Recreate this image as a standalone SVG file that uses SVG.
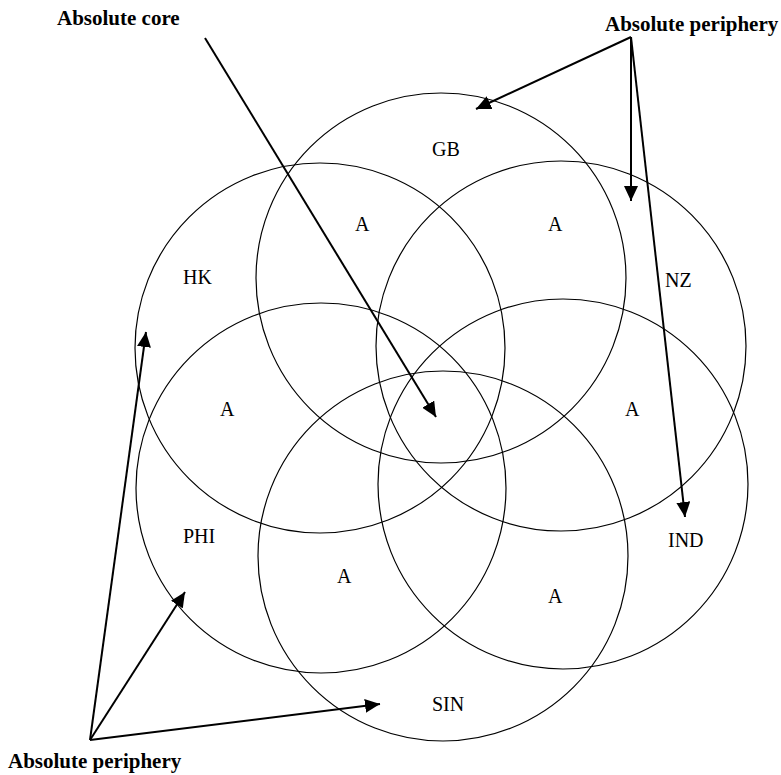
<svg xmlns="http://www.w3.org/2000/svg" width="781" height="775" viewBox="0 0 781 775">
<style>
.c{fill:none;stroke:#000;stroke-width:1.2}
text{font-family:'Liberation Serif','Times New Roman',Tinos,'DejaVu Serif',serif;fill:#000}
.l{font-size:20px}
.t{font-size:21px;font-weight:bold}
.a{fill:none;stroke:#000;stroke-width:2;marker-end:url(#ah)}
</style>
<defs>
<marker id="ah" markerUnits="userSpaceOnUse" markerWidth="16" markerHeight="14" refX="15" refY="7" orient="auto">
<path d="M0,0 L15,7 L0,14 z" fill="#000"/>
</marker>
</defs>
<rect width="781" height="775" fill="#fff"/>
<g id="gb"><circle class="c" cx="441" cy="278" r="185"/><text class="l" x="432" y="156">GB</text></g>
<g id="hk"><circle class="c" cx="320" cy="348" r="185"/><text class="l" x="183" y="284">HK</text></g>
<g id="nz"><circle class="c" cx="561" cy="346" r="185"/><text class="l" x="665" y="287">NZ</text></g>
<g id="phi"><circle class="c" cx="321" cy="488" r="185"/><text class="l" x="183" y="543">PHI</text></g>
<g id="ind"><circle class="c" cx="563" cy="484" r="185"/><text class="l" x="668" y="547">IND</text></g>
<g id="sin"><circle class="c" cx="443" cy="556" r="185"/><text class="l" x="432" y="711">SIN</text></g>
<g id="overlaps">
<text class="l" x="355" y="231">A</text>
<text class="l" x="548" y="231">A</text>
<text class="l" x="220" y="416">A</text>
<text class="l" x="625" y="416">A</text>
<text class="l" x="337" y="583">A</text>
<text class="l" x="548" y="603">A</text>
</g>
<g id="labels">
<text class="t" x="57" y="25">Absolute core</text>
<text class="t" x="605" y="31">Absolute periphery</text>
<text class="t" x="8" y="768">Absolute periphery</text>
</g>
<g id="connectors">
<line class="a" x1="205" y1="38" x2="436" y2="417"/>
<line class="a" x1="631" y1="37" x2="476" y2="109"/>
<line class="a" x1="631" y1="37" x2="631" y2="201"/>
<line class="a" x1="631" y1="37" x2="685" y2="517"/>
<line class="a" x1="90" y1="740" x2="146" y2="332"/>
<line class="a" x1="90" y1="740" x2="185" y2="592"/>
<line class="a" x1="90" y1="740" x2="380" y2="704"/>
</g>
</svg>
